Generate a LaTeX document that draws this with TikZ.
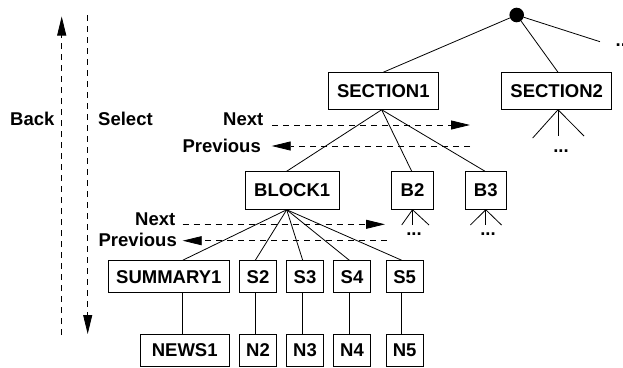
\documentclass[tikz,border=0pt]{standalone}
\usepackage{fontspec}
\setmainfont{Liberation Sans}
\usetikzlibrary{arrows.meta}
\begin{document}
\begin{tikzpicture}[x=1pt,y=-1pt,
  font=\fontsize{18.5}{20}\selectfont\bfseries,
  box/.style={draw, line width=0.9pt, inner sep=0pt},
  tall/.style={box, minimum height=36.6pt},
  short/.style={box, minimum height=32pt},
  lab/.style={inner sep=0pt},
  edge/.style={line width=0.8pt},
  dsh/.style={line width=0.8pt, dash pattern=on 6pt off 5pt},
  tip/.style={-{Triangle[length=19pt,width=9pt]}}
]
\useasboundingbox (0,0) rectangle (623,367);

% root
\node[circle, fill, inner sep=0pt, minimum size=14.6pt] (root) at (516.7,15) {};

% level 1
\node[tall, minimum width=110pt] (sec1) at (383.3,91) {SECTION1};
\node[tall, minimum width=110pt] (sec2) at (556.7,91) {SECTION2};
\coordinate (rd) at (600,41.7);
\node[lab, anchor=base west] (rdots) at (615.5,46.5) {...};

\draw[edge] (root) -- (sec1.north);
\draw[edge] (root) -- ([xshift=1.3pt]sec2.north);
\draw[edge] (root) -- (rd);

% SECTION2 fan
\coordinate (f2a) at (532.7,138);
\coordinate (f2b) at (558,136);
\coordinate (f2c) at (584,136);
\draw[edge] ([xshift=1.3pt]sec2.south) -- (f2a);
\draw[edge] ([xshift=1.3pt]sec2.south) -- (f2b);
\draw[edge] ([xshift=1.3pt]sec2.south) -- (f2c);
\node[lab, anchor=base] (s2dots) at (561,152) {...};

% level 2
\node[tall, minimum width=94.3pt, minimum height=37.6pt] (blk1) at (292.2,190.5) {BLOCK1};
\node[tall, minimum width=41.6pt, minimum height=37.6pt] (b2) at (412.5,190.5) {B2};
\node[tall, minimum width=41.7pt, minimum height=37.6pt] (b3) at (485.8,190.5) {B3};

\draw[edge] ([xshift=-1.6pt]sec1.south) -- ([xshift=-5.5pt]blk1.north);
\draw[edge] ([xshift=-1.6pt]sec1.south) -- ([xshift=-0.8pt]b2.north);
\draw[edge] ([xshift=-1.6pt]sec1.south) -- ([xshift=-0.8pt]b3.north);

% B2 / B3 fans
\coordinate (fb2a) at (401.7,225);
\coordinate (fb2b) at (412.5,225);
\coordinate (fb2c) at (429,225);
\draw[edge] (b2.south) -- (fb2a);
\draw[edge] (b2.south) -- (fb2b);
\draw[edge] (b2.south) -- (fb2c);
\node[lab, anchor=base] (b2dots) at (414,235.5) {...};
\coordinate (fb3a) at (470.3,225);
\coordinate (fb3b) at (485.8,225);
\coordinate (fb3c) at (501.5,225);
\draw[edge] (b3.south) -- (fb3a);
\draw[edge] (b3.south) -- (fb3b);
\draw[edge] (b3.south) -- (fb3c);
\node[lab, anchor=base] (b3dots) at (488,235.5) {...};

% level 3
\node[short, minimum width=121pt] (sum1) at (168.8,276.7) {SUMMARY1};
\node[short, minimum width=37.4pt] (st2) at (258,276.7) {S2};
\node[short, minimum width=36.6pt] (st3) at (305,276.7) {S3};
\node[short, minimum width=37.4pt] (st4) at (352,276.7) {S4};
\node[short, minimum width=37.3pt] (st5) at (404.7,276.7) {S5};

\draw[edge] ([xshift=-5.5pt]blk1.south) -- ([xshift=13.9pt]sum1.north);
\draw[edge] ([xshift=-5.5pt]blk1.south) -- ([xshift=-2.7pt]st2.north);
\draw[edge] ([xshift=-5.5pt]blk1.south) -- ([xshift=-2.3pt]st3.north);
\draw[edge] ([xshift=-5.5pt]blk1.south) -- ([xshift=-2.7pt]st4.north);
\draw[edge] ([xshift=-5.5pt]blk1.south) -- ([xshift=-3pt]st5.north);

% level 4
\node[short, minimum width=89.3pt, minimum height=31.7pt] (news1) at (184.7,350.2) {NEWS1};
\node[short, minimum width=37.4pt, minimum height=31.7pt] (n2) at (258,350.2) {N2};
\node[short, minimum width=36.6pt, minimum height=31.7pt] (n3) at (305,350.2) {N3};
\node[short, minimum width=37.4pt, minimum height=31.7pt] (n4) at (352,350.2) {N4};
\node[short, minimum width=37.3pt, minimum height=31.7pt] (n5) at (404.7,350.2) {N5};

\draw[edge] ([xshift=13.2pt]sum1.south) -- ([xshift=-2.7pt]news1.north);
\draw[edge] ([xshift=-2.7pt]st2.south) -- ([xshift=-2.7pt]n2.north);
\draw[edge] ([xshift=-2.3pt]st3.south) -- ([xshift=-2.3pt]n3.north);
\draw[edge] ([xshift=-2.7pt]st4.south) -- ([xshift=-2.7pt]n4.north);
\draw[edge] ([xshift=-3pt]st5.south) -- ([xshift=-3pt]n5.north);

% navigation labels and arrows (upper)
\node[lab, anchor=base east] (next1) at (263.5,125) {Next};
\node[lab, anchor=base east] (prev1) at (261,152.7) {Previous};
\coordinate (n1s) at (272,125);
\coordinate (n1e) at (470,125);
\coordinate (p1s) at (470,146);
\coordinate (p1e) at (271.7,146);
\draw[dsh, tip] (n1s) -- (n1e);
\draw[dsh, tip] (p1s) -- (p1e);

% navigation labels and arrows (lower)
\node[lab, anchor=base east] (next2) at (175.5,225) {Next};
\node[lab, anchor=base east] (prev2) at (177,246.7) {Previous};
\coordinate (n2s) at (182.7,224.3);
\coordinate (n2e) at (385,224.3);
\coordinate (p2s) at (386.7,240.7);
\coordinate (p2e) at (182.7,240.7);
\draw[dsh, tip] (n2s) -- (n2e);
\draw[dsh, tip] (p2s) -- (p2e);

% Back / Select
\node[lab, anchor=base west] (back) at (10,125) {Back};
\node[lab, anchor=base west] (select) at (98,125) {Select};
\coordinate (bk1) at (61.7,335);
\coordinate (bk2) at (61.7,16.5);
\coordinate (sl1) at (87.7,15);
\coordinate (sl2) at (87.7,334);
\draw[dsh, tip] (bk1) -- (bk2);
\draw[dsh, tip] (sl1) -- (sl2);
\end{tikzpicture}
\end{document}
